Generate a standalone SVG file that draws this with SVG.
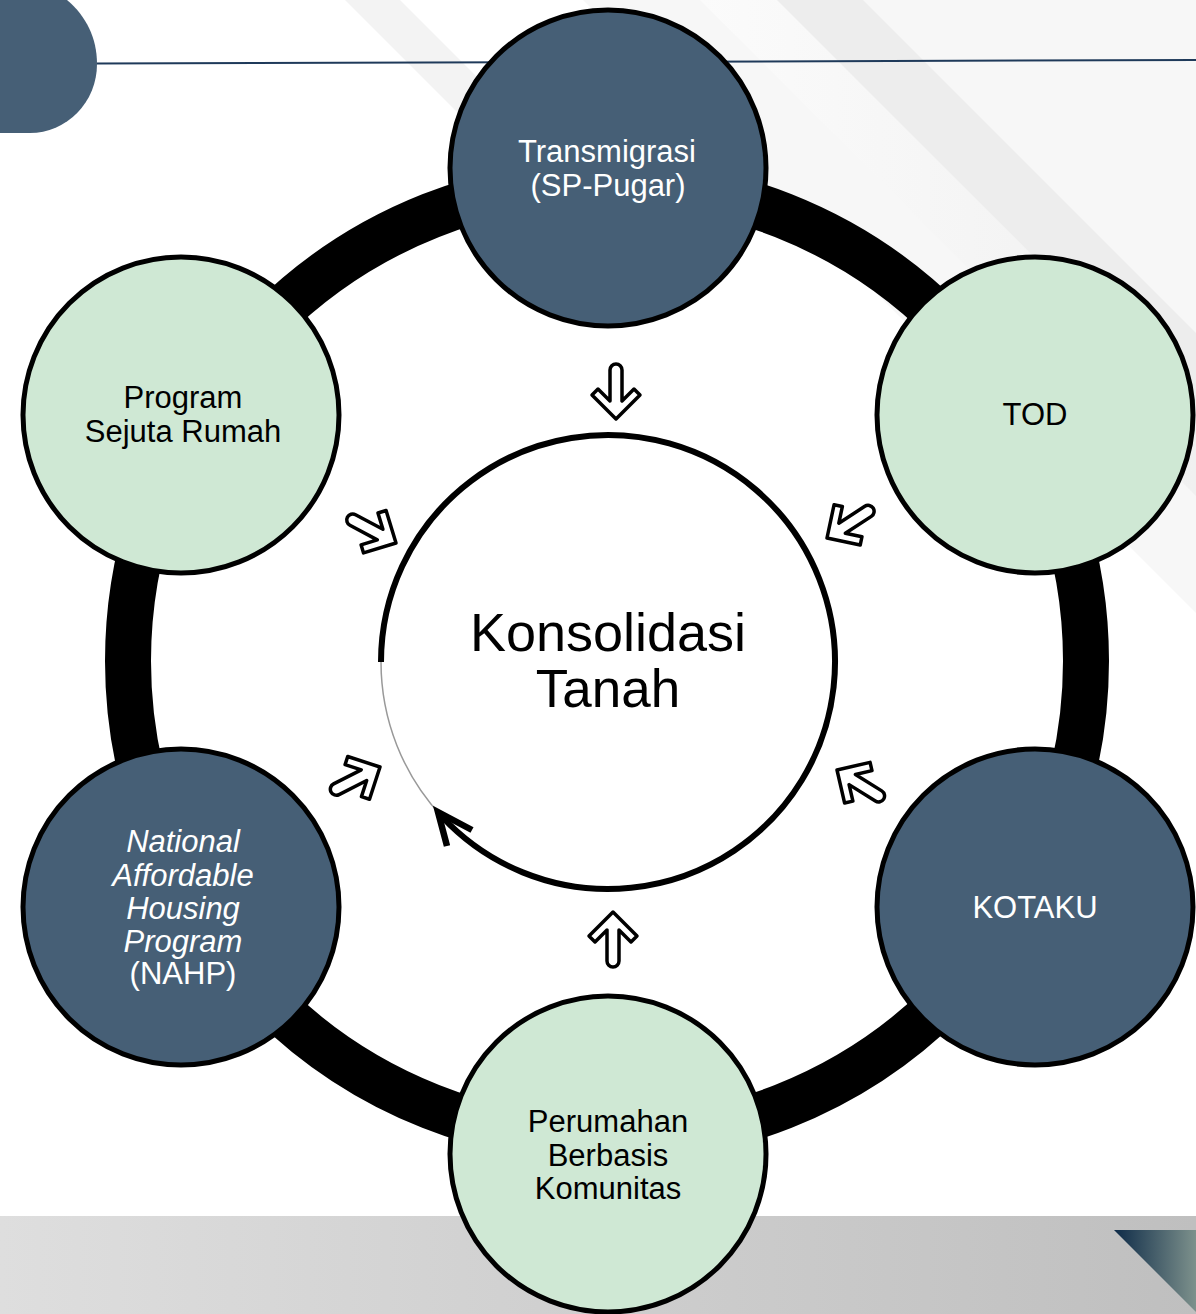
<svg xmlns="http://www.w3.org/2000/svg" width="1196" height="1314" viewBox="0 0 1196 1314">
  <defs>
    <linearGradient id="bottomBand" x1="0" y1="0" x2="1" y2="0">
      <stop offset="0" stop-color="#dedede"/>
      <stop offset="1" stop-color="#bfbfbf"/>
    </linearGradient>
    <linearGradient id="cornerTri" x1="0" y1="0" x2="1" y2="0">
      <stop offset="0" stop-color="#0e2b48"/>
      <stop offset="1" stop-color="#7d918c"/>
    </linearGradient>
    <linearGradient id="bandFade" x1="0" y1="0" x2="1" y2="0">
      <stop offset="0" stop-color="#fbfbfb"/>
      <stop offset="1" stop-color="#f0f0f0"/>
    </linearGradient>
    <style>
      .node-dark { fill: #465f76; stroke: #000; stroke-width: 5; }
      .node-light { fill: #cfe8d4; stroke: #000; stroke-width: 5; }
      .lbl { font-family: "Liberation Sans", Arial, sans-serif; font-size: 31px; text-anchor: middle; }
      .lbl-w { fill: #ffffff; }
      .lbl-b { fill: #000000; }
      .small-arrow { fill: #ffffff; stroke: #000; stroke-width: 3.5; stroke-linejoin: round; }
    </style>
    <path id="blockArrow" d="M0,0 L-24,-24 L-30,-18 L-18,-6 L-49,-6 A6,6 0 0 0 -49,6 L-18,6 L-30,18 L-24,24 Z"/>
  </defs>

  <!-- background -->
  <rect x="0" y="0" width="1196" height="1314" fill="#ffffff"/>
  <g id="background">
    <polygon points="583,0 1196,0 1196,613" fill="#f7f7f7"/>
    <polygon points="700,0 777,0 1196,419 1196,496" fill="url(#bandFade)"/>
    <polygon points="777,0 863,0 1196,333 1196,419" fill="#ededed"/>
    <polygon points="345,0 400,0 650,250 595,250" fill="#f3f3f3"/>
    <path d="M0,0 H67 C86,16 97,38 97,64 A67,69 0 0 1 30,133 H0 Z" fill="#465f76"/>
    <line x1="97" y1="63.5" x2="1196" y2="60" stroke="#1f3a5a" stroke-width="2"/>
    <rect x="0" y="1216" width="1196" height="98" fill="url(#bottomBand)"/>
    <polygon points="1114,1230 1196,1230 1196,1312" fill="url(#cornerTri)"/>
  </g>

  <!-- connectors -->
  <g id="connectors">
    <circle cx="607" cy="661" r="479" fill="none" stroke="#000" stroke-width="46"/>
    <path d="M442,816.8 A227,227 0 0 1 381,662" fill="none" stroke="#999999" stroke-width="1.5"/>
    <path d="M381,662 A227,227 0 1 1 442,816.8" fill="none" stroke="#000" stroke-width="6"/>
    <path d="M472,830 L438,812 L447,846" fill="none" stroke="#000" stroke-width="6.5" stroke-linejoin="miter"/>
    <use href="#blockArrow" class="small-arrow" transform="translate(616,419) rotate(90)"/>
    <use href="#blockArrow" class="small-arrow" transform="translate(613,912) rotate(-90)"/>
    <use href="#blockArrow" class="small-arrow" transform="translate(396,543) rotate(28)"/>
    <use href="#blockArrow" class="small-arrow" transform="translate(827,538) rotate(147)"/>
    <use href="#blockArrow" class="small-arrow" transform="translate(837,770) rotate(212)"/>
    <use href="#blockArrow" class="small-arrow" transform="translate(380,767) rotate(333)"/>
  </g>

  <!-- center node -->
  <g id="node-konsolidasi">
    <text x="608" y="651" font-family="Liberation Sans, Arial, sans-serif" font-size="54" text-anchor="middle" fill="#000">Konsolidasi</text>
    <text x="608" y="707" font-family="Liberation Sans, Arial, sans-serif" font-size="53" text-anchor="middle" fill="#000">Tanah</text>
  </g>

  <g id="node-transmigrasi">
    <circle cx="608" cy="168" r="158" class="node-dark"/>
    <text x="607" y="162" class="lbl lbl-w">Transmigrasi</text>
    <text x="608" y="196" class="lbl lbl-w">(SP-Pugar)</text>
  </g>

  <g id="node-tod">
    <circle cx="1035" cy="415" r="158" class="node-light"/>
    <text x="1035" y="425" class="lbl lbl-b">TOD</text>
  </g>

  <g id="node-kotaku">
    <circle cx="1035" cy="907" r="158" class="node-dark"/>
    <text x="1035" y="918" class="lbl lbl-w">KOTAKU</text>
  </g>

  <g id="node-perumahan">
    <circle cx="608" cy="1154" r="158" class="node-light"/>
    <text x="608" y="1132" class="lbl lbl-b">Perumahan</text>
    <text x="608" y="1166" class="lbl lbl-b">Berbasis</text>
    <text x="608" y="1199" class="lbl lbl-b">Komunitas</text>
  </g>

  <g id="node-nahp">
    <circle cx="181" cy="907" r="158" class="node-dark"/>
    <text x="183" y="852" class="lbl lbl-w" font-style="italic">National</text>
    <text x="183" y="886" class="lbl lbl-w" font-style="italic">Affordable</text>
    <text x="183" y="919" class="lbl lbl-w" font-style="italic">Housing</text>
    <text x="183" y="952" class="lbl lbl-w" font-style="italic">Program</text>
    <text x="183" y="984" class="lbl lbl-w">(NAHP)</text>
  </g>

  <g id="node-sejuta-rumah">
    <circle cx="181" cy="415" r="158" class="node-light"/>
    <text x="183" y="408" class="lbl lbl-b">Program</text>
    <text x="183" y="442" class="lbl lbl-b">Sejuta Rumah</text>
  </g>
</svg>
